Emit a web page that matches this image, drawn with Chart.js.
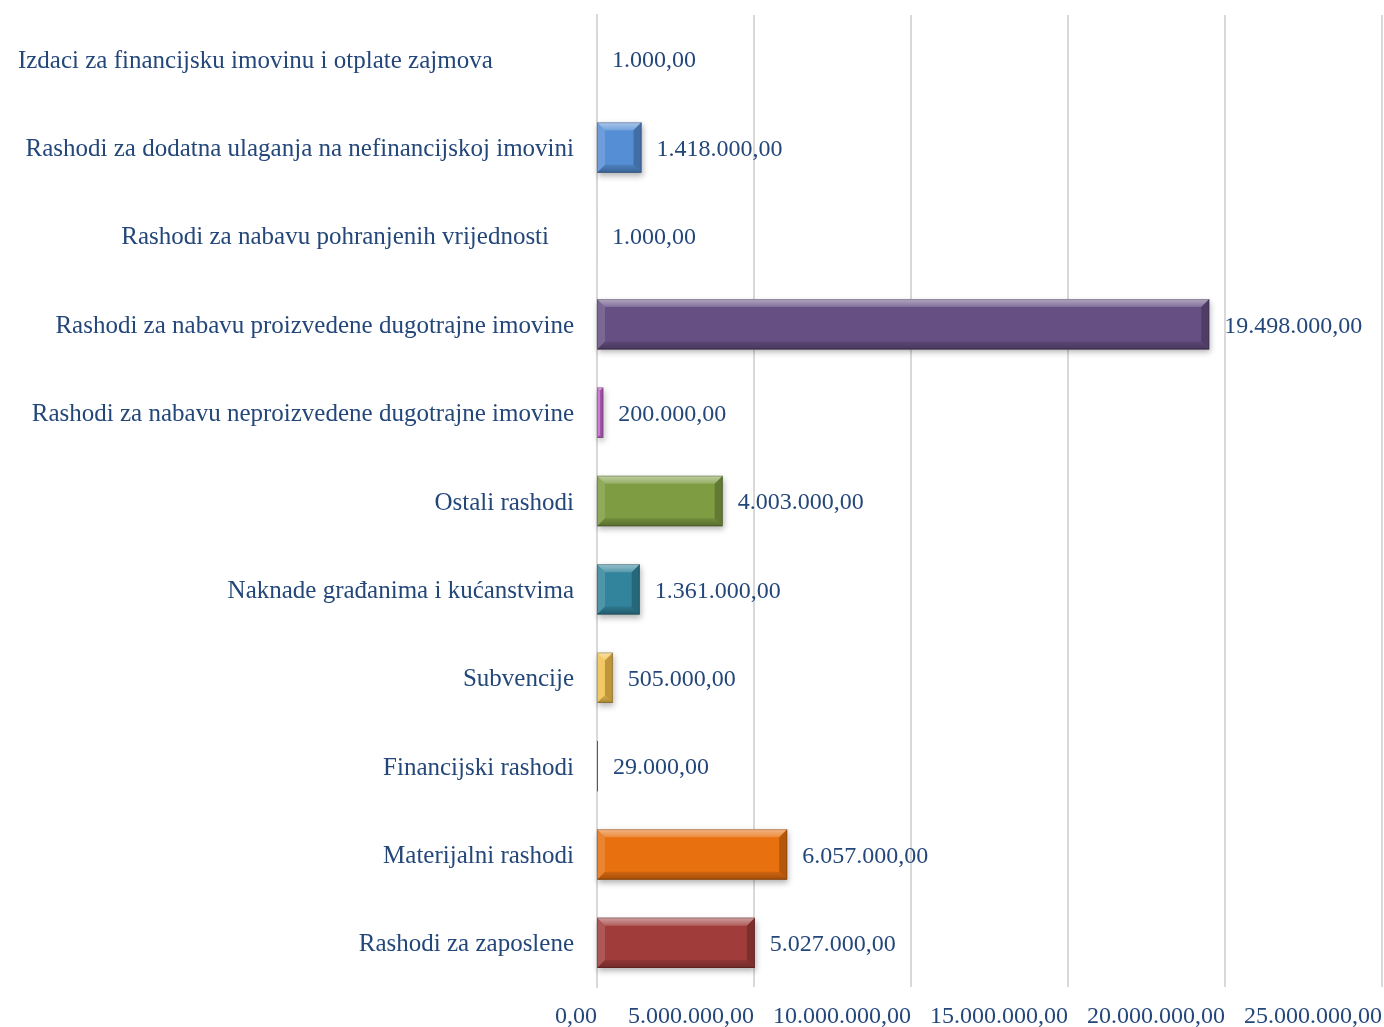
<!DOCTYPE html>
<html>
<head>
<meta charset="utf-8">
<script src="https://cdn.jsdelivr.net/npm/chart.js@4.4.1/dist/chart.umd.min.js"></script>
<style>
  html, body { margin: 0; padding: 0; background: #fff; }
  #wrap { width: 1384px; height: 1027px; position: relative; }
</style>
</head>
<body>
<div id="wrap"><canvas id="rashodiChart"></canvas></div>
<script>
// categories, top to bottom (trailing spaces kept as in the original labels)
const categories = [
    'Izdaci za financijsku imovinu i otplate zajmova             ',
    'Rashodi za dodatna ulaganja na nefinancijskoj imovini',
    'Rashodi za nabavu pohranjenih vrijednosti    ',
    'Rashodi za nabavu proizvedene dugotrajne imovine',
    'Rashodi za nabavu neproizvedene dugotrajne imovine',
    'Ostali rashodi',
    'Naknade građanima i kućanstvima',
    'Subvencije',
    'Financijski rashodi',
    'Materijalni rashodi',
    'Rashodi za zaposlene'
];
const values = [1000, 1418000, 1000, 19498000, 200000, 4003000, 1361000, 505000, 29000, 6057000, 5027000];
const barColors = ['#4F81BD', '#558ED5', '#4F81BD', '#664F83', '#C767CF', '#7E9C42', '#31849B', '#F2C14E', '#595959', '#E8700F', '#A03D3B'];
const xTicks = [0, 5000000, 10000000, 15000000, 20000000, 25000000];

const textColor = '#24477A';
const gridColor = '#D9D9D9';
const fontFamily = '"Liberation Serif", "Times New Roman", serif';
const labelSize = 25;
const numberSize = 24;

// 1234567 -> 1.234.567,00
function formatHr(v) {
    const whole = Math.round(v).toString().replace(/\B(?=(\d{3})+(?!\d))/g, '.');
    return whole + ',00';
}

// shadow behind bars
const barShadow = {
    id: 'barShadow',
    beforeDatasetsDraw(chart) {
        const ctx = chart.ctx;
        chart.getDatasetMeta(0).data.forEach(bar => {
            const w = bar.x - bar.base;
            if (w < 1) return;
            const top = bar.y - bar.height / 2;
            ctx.save();
            ctx.shadowColor = 'rgba(0,0,0,0.3)';
            ctx.shadowBlur = 6;
            ctx.shadowOffsetX = 1;
            ctx.shadowOffsetY = 3;
            ctx.fillStyle = '#999';
            ctx.fillRect(bar.base, top, w, bar.height);
            ctx.restore();
        });
    }
};

function poly(ctx, pts, fill) {
    ctx.fillStyle = fill;
    ctx.beginPath();
    ctx.moveTo(pts[0][0], pts[0][1]);
    for (let k = 1; k < pts.length; k++) ctx.lineTo(pts[k][0], pts[k][1]);
    ctx.closePath();
    ctx.fill();
}

// bevel edges on top of the bars + value labels
const bevelAndLabels = {
    id: 'bevelAndLabels',
    afterDatasetsDraw(chart) {
        const ctx = chart.ctx;
        const meta = chart.getDatasetMeta(0);
        meta.data.forEach((bar, i) => {
            const l = bar.base, r = bar.x;
            const t = bar.y - bar.height / 2, b = bar.y + bar.height / 2;
            const w = r - l;
            if (w >= 1) {
                const bv = Math.min(8, w / 2);
                ctx.save();
                // top
                let g = ctx.createLinearGradient(0, t, 0, t + bv);
                g.addColorStop(0, 'rgba(255,255,255,0.5)');
                g.addColorStop(1, 'rgba(255,255,255,0.18)');
                poly(ctx, [[l, t], [r, t], [r - bv, t + bv], [l + bv, t + bv]], g);
                // left
                poly(ctx, [[l, t], [l + bv, t + bv], [l + bv, b - bv], [l, b]], 'rgba(255,255,255,0.14)');
                // right
                poly(ctx, [[r, t], [r, b], [r - bv, b - bv], [r - bv, t + bv]], 'rgba(0,0,0,0.22)');
                // bottom
                g = ctx.createLinearGradient(0, b - bv, 0, b);
                g.addColorStop(0, 'rgba(0,0,0,0.1)');
                g.addColorStop(1, 'rgba(0,0,0,0.3)');
                poly(ctx, [[l, b], [l + bv, b - bv], [r - bv, b - bv], [r, b]], g);
                // thin outline
                ctx.strokeStyle = 'rgba(0,0,0,0.18)';
                ctx.lineWidth = 1;
                ctx.strokeRect(l + 0.5, t + 0.5, w - 1, b - t - 1);
                ctx.restore();
            } else if (w >= 0.3) {
                // very small values still show a hairline
                ctx.save();
                ctx.strokeStyle = barColors[i];
                ctx.lineWidth = 1;
                ctx.beginPath();
                ctx.moveTo(l + 0.5, t); ctx.lineTo(l + 0.5, b);
                ctx.stroke();
                ctx.restore();
            }

            // value label
            ctx.save();
            ctx.font = numberSize + 'px ' + fontFamily;
            ctx.fillStyle = textColor;
            ctx.textAlign = 'left';
            ctx.textBaseline = 'middle';
            ctx.fillText(formatHr(values[i]), Math.max(r, l) + 15, bar.y + 2);
            ctx.restore();
        });
    }
};

const ctx = document.getElementById('rashodiChart').getContext('2d');
new Chart(ctx, {
    type: 'bar',
    data: {
        labels: categories,
        datasets: [{
            data: values,
            backgroundColor: barColors,
            borderWidth: 0,
            inflateAmount: 0,
            barPercentage: 0.57,
            categoryPercentage: 1
        }]
    },
    options: {
        indexAxis: 'y',
        responsive: true,
        maintainAspectRatio: false,
        animation: false,
        layout: {
            padding: { top: 15, right: 2, left: 0, bottom: 0 }
        },
        plugins: {
            legend: { display: false },
            tooltip: { enabled: false }
        },
        scales: {
            x: {
                min: 0,
                max: 25000000,
                afterBuildTicks(scale) {
                    scale.ticks = xTicks.map(v => ({ value: v }));
                },
                afterFit(scale) {
                    scale.height = 40;
                    scale.paddingLeft = 0;
                    scale.paddingRight = 0;
                },
                border: { display: false },
                grid: {
                    color: gridColor,
                    // zero line comes from the y axis border, so bars start exactly at 0
                    lineWidth: c => (c.tick && c.tick.value === 0 ? 0 : 2),
                    drawTicks: false
                },
                ticks: {
                    align: 'end',
                    padding: 15,
                    color: textColor,
                    font: { family: fontFamily, size: numberSize },
                    maxRotation: 0,
                    autoSkip: false,
                    callback: v => formatHr(v)
                }
            },
            y: {
                afterFit(scale) {
                    scale.width = 597;
                    scale.paddingTop = 0;
                    scale.paddingBottom = 0;
                },
                border: { display: true, color: gridColor, width: 2 },
                grid: { display: false, drawTicks: false },
                ticks: {
                    padding: 23,
                    labelOffset: 2,
                    color: textColor,
                    font: { family: fontFamily, size: labelSize },
                    autoSkip: false
                }
            }
        }
    },
    plugins: [barShadow, bevelAndLabels]
});
</script>
</body>
</html>
